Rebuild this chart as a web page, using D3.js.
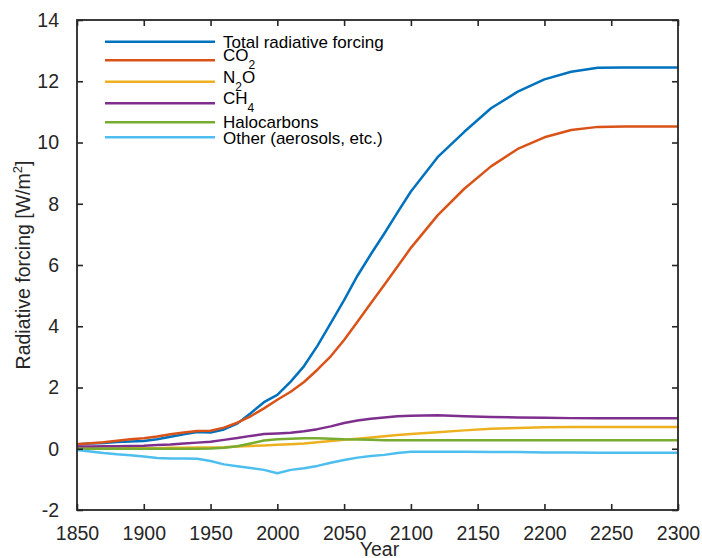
<!DOCTYPE html>
<html>
<head>
<meta charset="utf-8">
<script src="https://cdn.jsdelivr.net/npm/d3@7"></script>
<style>
  html, body { margin: 0; padding: 0; background: #fff; }
  svg { display: block; font-family: "Liberation Sans", Arial, Helvetica, sans-serif; }
</style>
</head>
<body>
<svg id="chart" width="702" height="558"></svg>
<script>
// Years of the forcing record (decadal to 2100, then every 20 years)
const years = [1850, 1860, 1870, 1880, 1890, 1900, 1910, 1920, 1930, 1940,
  1950, 1960, 1970, 1980, 1990, 2000, 2010, 2020, 2030, 2040,
  2050, 2060, 2070, 2080, 2090, 2100, 2120, 2140, 2160, 2180,
  2200, 2220, 2240, 2260, 2280, 2300];

// Radiative forcing by agent, W/m^2
const total = [0.15, 0.17, 0.19, 0.22, 0.24, 0.25, 0.31, 0.39, 0.47, 0.55,
  0.53, 0.63, 0.82, 1.16, 1.52, 1.76, 2.19, 2.70, 3.36, 4.10,
  4.85, 5.65, 6.35, 7.02, 7.72, 8.40, 9.52, 10.35, 11.12, 11.66,
  12.06, 12.31, 12.44, 12.45, 12.45, 12.45];
const co2 = [0.15, 0.18, 0.21, 0.26, 0.31, 0.34, 0.40, 0.47, 0.53, 0.58,
  0.59, 0.69, 0.85, 1.06, 1.32, 1.60, 1.86, 2.18, 2.58, 3.02,
  3.55, 4.15, 4.75, 5.35, 5.95, 6.56, 7.62, 8.49, 9.22, 9.79,
  10.17, 10.41, 10.51, 10.52, 10.52, 10.52];
const n2o = [0.01, 0.01, 0.01, 0.01, 0.02, 0.02, 0.02, 0.03, 0.03, 0.04,
  0.04, 0.05, 0.07, 0.09, 0.11, 0.13, 0.15, 0.17, 0.21, 0.25,
  0.29, 0.33, 0.37, 0.41, 0.45, 0.48, 0.54, 0.60, 0.65, 0.68,
  0.70, 0.71, 0.71, 0.71, 0.71, 0.71];
const ch4 = [0.07, 0.07, 0.08, 0.08, 0.09, 0.10, 0.12, 0.14, 0.17, 0.20,
  0.23, 0.29, 0.35, 0.42, 0.48, 0.50, 0.52, 0.57, 0.64, 0.73,
  0.84, 0.92, 0.98, 1.02, 1.06, 1.08, 1.09, 1.06, 1.04, 1.02,
  1.01, 1.00, 1.00, 1.00, 1.00, 1.00];
const halocarbons = [0.0, 0.0, 0.0, 0.0, 0.0, 0.0, 0.0, 0.0, 0.0, 0.0,
  0.01, 0.03, 0.08, 0.17, 0.27, 0.31, 0.33, 0.34, 0.34, 0.33,
  0.31, 0.30, 0.29, 0.28, 0.28, 0.28, 0.28, 0.28, 0.28, 0.28,
  0.28, 0.28, 0.28, 0.28, 0.28, 0.28];
const other = [-0.04, -0.09, -0.14, -0.18, -0.21, -0.25, -0.30, -0.32, -0.32, -0.33,
  -0.40, -0.51, -0.57, -0.63, -0.69, -0.80, -0.69, -0.64, -0.56, -0.46,
  -0.37, -0.29, -0.24, -0.20, -0.14, -0.10, -0.10, -0.10, -0.11, -0.11,
  -0.12, -0.12, -0.13, -0.13, -0.13, -0.13];

// Tick values
const xTicks = [1850, 1900, 1950, 2000, 2050, 2100, 2150, 2200, 2250, 2300];
const yTicks = [-2, 0, 2, 4, 6, 8, 10, 12, 14];

// Legend entries: main text, optional subscript, trailing text
const seriesNames = [
  ["Total radiative forcing", "", ""],
  ["CO", "2", ""],
  ["N", "2", "O"],
  ["CH", "4", ""],
  ["Halocarbons", "", ""],
  ["Other (aerosols, etc.)", "", ""]
];
const seriesValues = [total, co2, n2o, ch4, halocarbons, other];
const colors = ["#0072BD", "#D95319", "#EDB120", "#7E2F8E", "#77AC30", "#4DBEEE"];

const svg = d3.select("#chart");
const plotLeft = 77, plotRight = 678, plotTop = 20, plotBottom = 510;
const axisColor = "#262626";
const lineWidth = 2.5;

const x = d3.scaleLinear().domain([1850, 2300]).range([plotLeft, plotRight]);
const y = d3.scaleLinear().domain([-2, 14]).range([plotBottom, plotTop]);

// Data lines
const line = d3.line()
  .x((d, i) => x(years[i]))
  .y(d => y(d));

const plot = svg.append("g");
seriesValues.forEach((vals, k) => {
  plot.append("path")
    .datum(vals)
    .attr("d", line)
    .attr("fill", "none")
    .attr("stroke", colors[k])
    .attr("stroke-width", lineWidth)
    .attr("stroke-linejoin", "round");
});

// Axes with inward ticks on all four sides
const tickLen = 6;
const fontSize = 19.5;
const plainInt = d => String(d);   // ASCII hyphen for negatives

const xb = svg.append("g").attr("transform", `translate(0,${plotBottom})`)
  .call(d3.axisBottom(x).tickValues(xTicks).tickFormat(plainInt)
    .tickSizeInner(-tickLen).tickSizeOuter(0).tickPadding(16));
const xt = svg.append("g").attr("transform", `translate(0,${plotTop})`)
  .call(d3.axisTop(x).tickValues(xTicks).tickFormat("")
    .tickSizeInner(-tickLen).tickSizeOuter(0));
const yl = svg.append("g").attr("transform", `translate(${plotLeft},0)`)
  .call(d3.axisLeft(y).tickValues(yTicks).tickFormat(plainInt)
    .tickSizeInner(-tickLen).tickSizeOuter(0).tickPadding(18));
const yr = svg.append("g").attr("transform", `translate(${plotRight},0)`)
  .call(d3.axisRight(y).tickValues(yTicks).tickFormat("")
    .tickSizeInner(-tickLen).tickSizeOuter(0));

[xb, xt, yl, yr].forEach(g => {
  g.select(".domain").remove();
  g.selectAll(".tick line").attr("stroke", axisColor).attr("stroke-width", 1.6);
  g.selectAll(".tick text").attr("fill", axisColor)
    .attr("font-size", fontSize)
    .attr("font-family", "Liberation Sans, Arial, sans-serif");
});

// Box outline
svg.append("rect")
  .attr("x", plotLeft).attr("y", plotTop)
  .attr("width", plotRight - plotLeft).attr("height", plotBottom - plotTop)
  .attr("fill", "none").attr("stroke", axisColor).attr("stroke-width", 1.8);

// Axis titles
svg.append("text")
  .attr("x", (plotLeft + plotRight) / 2 + 2).attr("y", 556)
  .attr("text-anchor", "middle").attr("font-size", fontSize).attr("fill", axisColor)
  .text("Year");

const ylab = svg.append("text")
  .attr("transform", `translate(30,${(plotTop + plotBottom) / 2}) rotate(-90)`)
  .attr("text-anchor", "middle").attr("font-size", fontSize).attr("fill", axisColor);
ylab.append("tspan").text("Radiative forcing [W/m");
ylab.append("tspan").attr("dy", -8).attr("font-size", 13).text("2");
ylab.append("tspan").attr("dy", 8).text("]");

// Legend
const legendLineX0 = 105, legendLineX1 = 215, legendTextX = 223;
const legendLineY = [41.7, 60.3, 81.7, 103.3, 122.3, 137.3];
const legendTextY = [48.3, 61, 83.3, 104, 127.7, 143.5];
const legend = svg.append("g");
seriesNames.forEach((nm, k) => {
  legend.append("line")
    .attr("x1", legendLineX0).attr("x2", legendLineX1)
    .attr("y1", legendLineY[k]).attr("y2", legendLineY[k])
    .attr("stroke", colors[k]).attr("stroke-width", lineWidth);
  const t = legend.append("text")
    .attr("x", legendTextX).attr("y", legendTextY[k])
    .attr("font-size", 17).attr("fill", "#000");
  t.append("tspan").text(nm[0]);
  if (nm[1]) {
    t.append("tspan").attr("dy", 8).attr("font-size", 12).text(nm[1]);
    if (nm[2]) t.append("tspan").attr("dy", -8).text(nm[2]);
  }
});
</script>
</body>
</html>
